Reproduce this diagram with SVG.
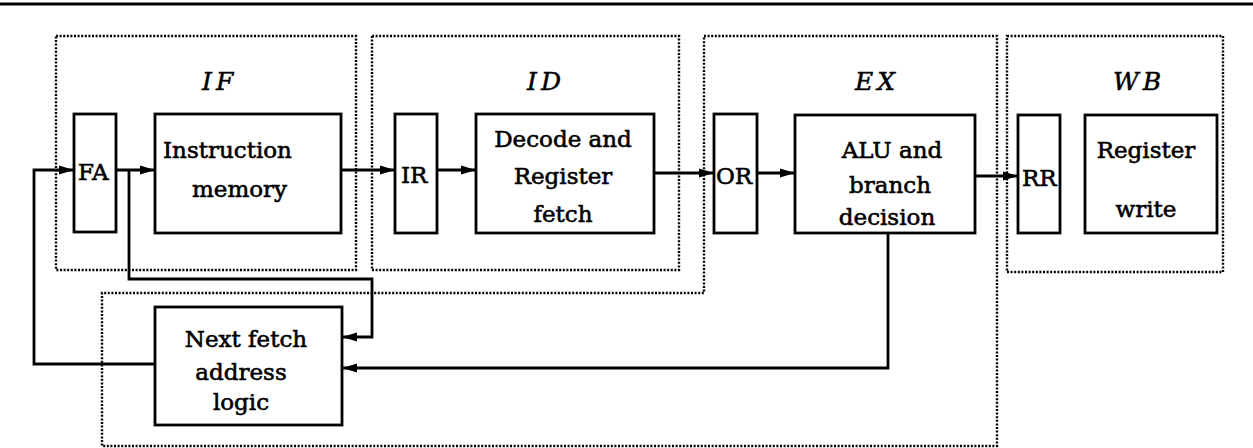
<svg xmlns="http://www.w3.org/2000/svg" width="1253" height="448" viewBox="0 0 1253 448">
<style>
.node rect{fill:#fff;stroke:#000;stroke-width:2.8}
.stage{fill:none;stroke:#000;stroke-width:2.4;stroke-dasharray:2 1.6}
.t{font-family:"DejaVu Serif","Liberation Serif",serif;font-size:23px;fill:#000;stroke:#000;stroke-width:0.6}
.s{font-family:"DejaVu Serif","Liberation Serif",serif;font-size:25px;font-style:italic;fill:#000;stroke:#000;stroke-width:0.5;letter-spacing:4px}
.c path{fill:none;stroke:#000;stroke-width:2.8}
</style>
<defs>
<marker id="a" markerUnits="userSpaceOnUse" markerWidth="16" markerHeight="12" refX="15" refY="6" orient="auto">
<path d="M0,1.5 L15,6 L0,10.5 z" fill="#000"/>
</marker>
</defs>
<rect width="1253" height="448" fill="#fff"/>
<line x1="0" y1="4" x2="1253" y2="4" stroke="#000" stroke-width="3"/>
<g id="stages">
<g id="stage-IF"><rect class="stage" x="56" y="36" width="300" height="234"/><text class="s" x="202" y="90">IF</text></g>
<g id="stage-ID"><rect class="stage" x="372" y="36" width="307" height="234"/><text class="s" x="527" y="90">ID</text></g>
<g id="stage-EX"><path class="stage" d="M704,36 H997 V446 H102 V293 H704 Z"/><text class="s" x="855" y="90">EX</text></g>
<g id="stage-WB"><rect class="stage" x="1007" y="36" width="216" height="236"/><text class="s" x="1113" y="90">WB</text></g>
</g>
<g id="connectors" class="c">
<path d="M155,364 H34 V170 H74" marker-end="url(#a)"/>
<path d="M116,170 H155" marker-end="url(#a)"/>
<path d="M129,170 V279 H372 V337 H342" marker-end="url(#a)"/>
<path d="M341,170 H395" marker-end="url(#a)"/>
<path d="M437,170 H476" marker-end="url(#a)"/>
<path d="M654,173 H714" marker-end="url(#a)"/>
<path d="M757,173 H795" marker-end="url(#a)"/>
<path d="M975,176 H1018" marker-end="url(#a)"/>
<path d="M888,233 V368 H342" marker-end="url(#a)"/>
</g>
<g id="FA" class="node"><rect x="74" y="114" width="42" height="118"/><text class="t" x="78" y="180">FA</text></g>
<g id="IM" class="node"><rect x="155" y="114" width="186" height="119"/><text class="t" x="163" y="158">Instruction</text><text class="t" x="192" y="197">memory</text></g>
<g id="IR" class="node"><rect x="395" y="114" width="42" height="119"/><text class="t" x="401" y="183">IR</text></g>
<g id="DEC" class="node"><rect x="476" y="114" width="178" height="119"/><text class="t" x="563" y="147" text-anchor="middle">Decode and</text><text class="t" x="563" y="184" text-anchor="middle">Register</text><text class="t" x="563" y="222" text-anchor="middle">fetch</text></g>
<g id="OR" class="node"><rect x="714" y="114" width="43" height="119"/><text class="t" x="716" y="184">OR</text></g>
<g id="ALU" class="node"><rect x="795" y="115" width="180" height="118"/><text class="t" x="892" y="158" text-anchor="middle">ALU and</text><text class="t" x="890" y="193" text-anchor="middle">branch</text><text class="t" x="887" y="225" text-anchor="middle">decision</text></g>
<g id="RR" class="node"><rect x="1018" y="115" width="42" height="118"/><text class="t" x="1022" y="186">RR</text></g>
<g id="RW" class="node"><rect x="1085" y="115" width="132" height="118"/><text class="t" x="1146" y="158" text-anchor="middle">Register</text><text class="t" x="1146" y="217" text-anchor="middle">write</text></g>
<g id="NFA" class="node"><rect x="155" y="307" width="187" height="118"/><text class="t" x="246" y="347" text-anchor="middle">Next fetch</text><text class="t" x="241" y="380" text-anchor="middle">address</text><text class="t" x="241" y="410" text-anchor="middle">logic</text></g>
</svg>
